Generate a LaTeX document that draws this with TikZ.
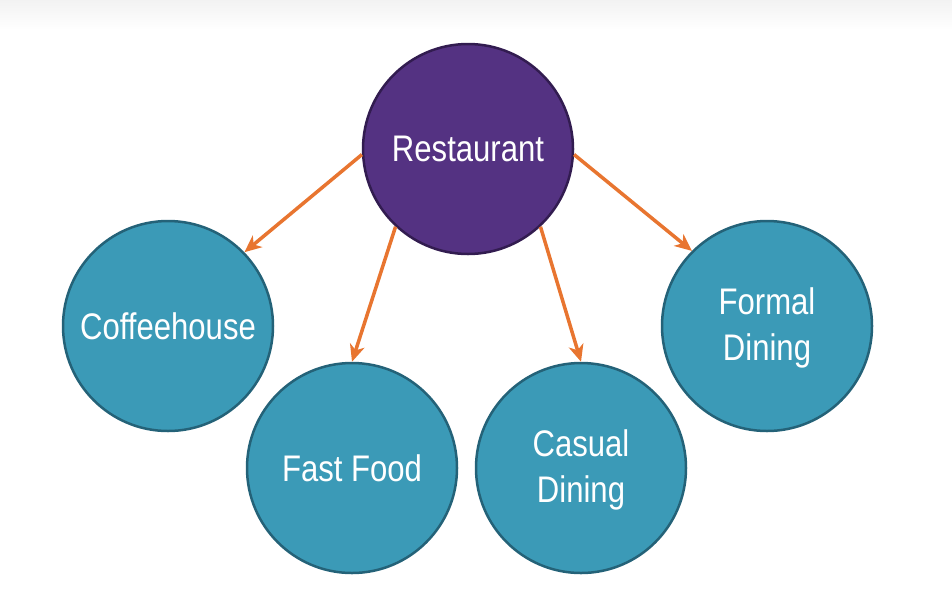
\documentclass[tikz,border=0pt]{standalone}
\usepackage{fontspec}
\setmainfont[FakeStretch=0.84]{Liberation Sans}
\usetikzlibrary{arrows.meta}
\definecolor{restfill}{RGB}{84,50,130}
\definecolor{restline}{RGB}{50,28,80}
\definecolor{kindfill}{RGB}{59,154,183}
\definecolor{kindline}{RGB}{36,98,120}
\definecolor{linkcol}{RGB}{232,117,48}
\begin{document}
\begin{tikzpicture}[x=1pt,y=-1pt,>={Stealth[length=17pt,width=15pt,inset=5pt]},
	kind/.style={circle,minimum size=210pt,inner sep=0pt,fill=kindfill,draw=kindline,line width=2.5pt,
		text=white,align=center,font=\fontsize{37}{46}\selectfont},
	link/.style={->,draw=linkcol,line width=3.5pt}]
			\useasboundingbox (0,0) rectangle (952,590);
			\shade[top color=black!5,bottom color=white] (0,0) rectangle (952,30);
			\node[kind,fill=restfill,draw=restline] (rest) at (468,149) {Restaurant};
			\node[kind] (coffee) at (168,326) {Coffeehouse};
			\node[kind] (fast) at (352,468) {Fast Food};
			\node[kind] (casual) at (581,468) {\rule{0pt}{30pt}Casual\\Dining};
			\node[kind] (formal) at (767,326) {\rule{0pt}{30pt}Formal\\Dining};
			\foreach \a/\b/\c in {183/coffee/44,227/fast/90,313/casual/90,357/formal/135}{\draw[link] (rest.\a)--(\b.\c);}
		\end{tikzpicture}
\end{document}
